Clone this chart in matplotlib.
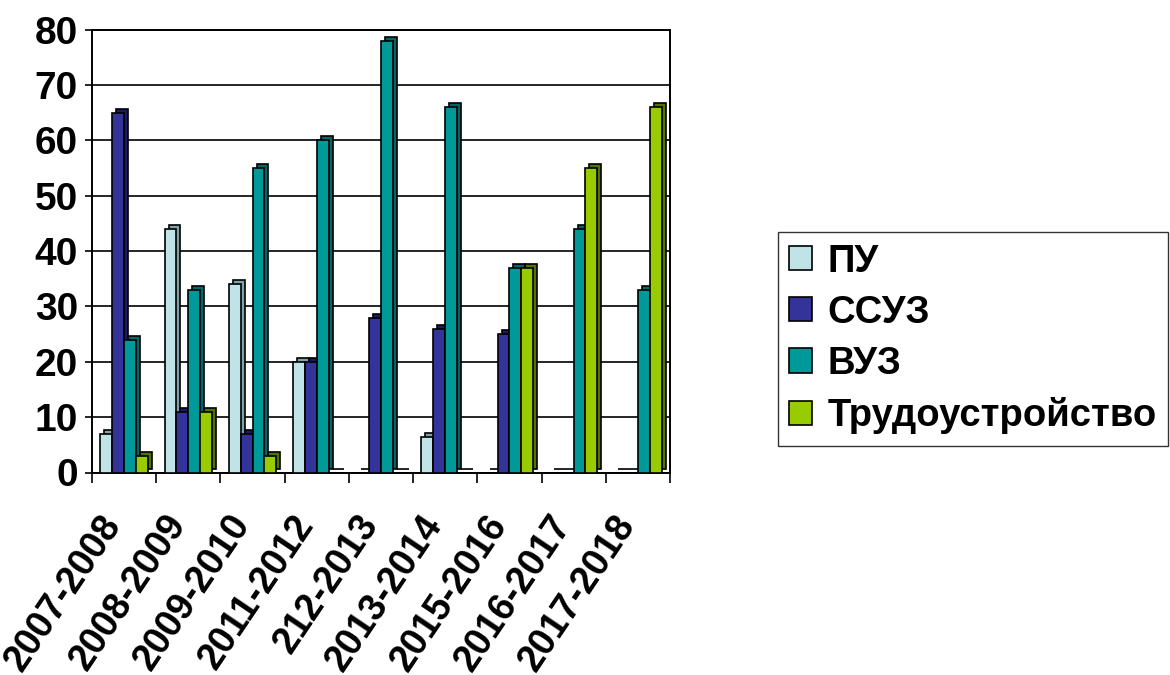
import matplotlib.pyplot as plt
import matplotlib.transforms as mtransforms
import numpy as np

years = ["2007-2008", "2008-2009", "2009-2010", "2011-2012", "212-2013",
         "2013-2014", "2015-2016", "2016-2017", "2017-2018"]
series_names = ["ПУ", "ССУЗ", "ВУЗ", "Трудоустройство"]
pu = [7, 44, 34, 20, 0, 6.5, 0, 0, 0]
ssuz = [65, 11, 7, 20, 28, 26, 25, 0, 0]
vuz = [24, 33, 55, 60, 78, 66, 37, 44, 33]
trud = [3, 11, 3, 0, 0, 0, 37, 55, 66]

face_colors = ["#BFE3E6", "#333399", "#009999", "#99CC00"]
side_colors = ["#7FA3A6", "#1A1A66", "#006666", "#557300"]

plt.rcParams['font.family'] = ['Liberation Sans', 'DejaVu Sans']
plt.rcParams['font.weight'] = 'bold'

fig = plt.figure(figsize=(11.7, 6.75), dpi=100)
ax = fig.add_axes([0.0786, 0.30, 0.494, 0.656])

ind = np.arange(len(years))
bar_width = 0.185
depth = mtransforms.offset_copy(ax.transData, fig=fig, x=4, y=4, units='dots')

for k, (vals, fc, sc, name) in enumerate(zip([pu, ssuz, vuz, trud], face_colors,
                                              side_colors, series_names)):
    pos = ind + (k - 1.5) * bar_width
    # shifted darker copy gives a rough 3D look
    ax.bar(pos, vals, width=bar_width, color=sc, edgecolor='black',
           linewidth=1.2, transform=depth, zorder=2 + k * 2)
    ax.bar(pos, vals, width=bar_width, color=fc, edgecolor='black',
           linewidth=1.2, zorder=3 + k * 2, label=name)

ax.set_xlim(-0.5, len(years) - 0.5)
ax.set_ylim(0, 80)
ax.set_yticks(range(0, 81, 10))
ax.yaxis.grid(True, color='black', linewidth=1.2)
ax.set_axisbelow(True)

ax.set_xticks(np.arange(len(years) + 1) - 0.5, minor=False)
ax.set_xticklabels([])
ax.set_xticks(ind, minor=True)
ax.set_xticklabels(years, minor=True, rotation=56, ha='right', va='center',
                   rotation_mode='anchor', fontsize=27, fontweight='bold')
ax.tick_params(axis='x', which='minor', length=0, pad=33)
ax.tick_params(axis='x', which='major', length=7, width=1.2, direction='out')
ax.tick_params(axis='y', labelsize=28, length=5, width=1.2, pad=5)

shift = mtransforms.ScaledTranslation(-10 / 100, 0, fig.dpi_scale_trans)
for lbl in ax.get_xticklabels(minor=True):
    lbl.set_transform(lbl.get_transform() + shift)

for s in ax.spines.values():
    s.set_linewidth(1.4)
    s.set_color('black')

ax.legend(loc='upper left', bbox_to_anchor=(1.187, 0.543), frameon=True,
          fancybox=False, edgecolor='black', handlelength=0.6,
          handleheight=0.6, handletextpad=0.4, labelspacing=0.4,
          borderpad=0.3, borderaxespad=0,
          prop={'weight': 'bold', 'size': 27.5})

fig.savefig("out.png", dpi=100)
